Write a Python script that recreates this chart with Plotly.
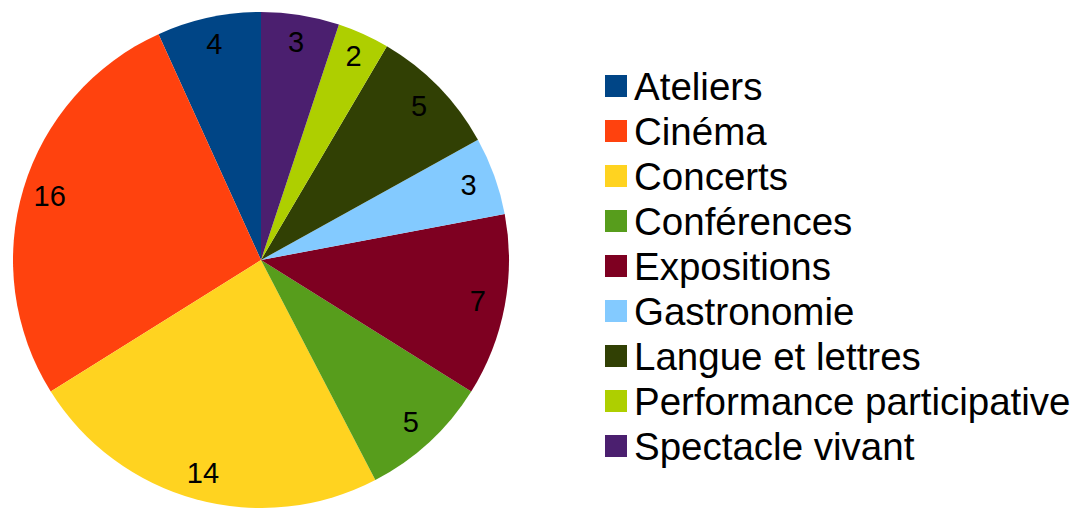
import plotly.graph_objects as go

categories = ["Ateliers", "Cinéma", "Concerts", "Conférences", "Expositions",
              "Gastronomie", "Langue et lettres", "Performance participative",
              "Spectacle vivant"]
values = [4, 16, 14, 5, 7, 3, 5, 2, 3]
colors = ["#004586", "#ff420e", "#ffd320", "#579d1c", "#7e0021",
          "#83caff", "#314004", "#aecf00", "#4b1f6f"]

total = sum(values)
# counterclockwise in plotly ends the first slice at the rotation angle;
# shift so the first slice starts at 12 o'clock
rot = -360.0 * values[0] / total

pie_domain = dict(x=[11/1074, 511/1074], y=[0, 1 - 12/508])

fig = go.Figure()
fig.add_trace(go.Pie(
    labels=categories,
    values=values,
    sort=False,
    direction="counterclockwise",
    rotation=rot,
    marker=dict(colors=colors, line=dict(width=0)),
    textinfo="none",
    domain=pie_domain,
    hoverinfo="label+value",
    showlegend=False,
))
# transparent ring overlay used only to place the value labels near the rim
fig.add_trace(go.Pie(
    labels=categories,
    values=values,
    sort=False,
    direction="counterclockwise",
    rotation=rot,
    hole=0.78,
    marker=dict(colors=["rgba(0,0,0,0)"] * len(values), line=dict(width=0)),
    textinfo="value",
    textposition="inside",
    insidetextorientation="horizontal",
    textfont=dict(family="Liberation Sans", size=29, color="black"),
    domain=pie_domain,
    hoverinfo="skip",
    showlegend=False,
))

# legend drawn as categorical scatters: swatches and labels
fig.add_trace(go.Scatter(
    x=[0] * len(categories),
    y=categories,
    mode="markers",
    marker=dict(symbol="square", size=22, color=colors, line=dict(width=0)),
    cliponaxis=False,
    hoverinfo="skip",
    showlegend=False,
    xaxis="x", yaxis="y",
))
fig.add_trace(go.Scatter(
    x=[0] * len(categories),
    y=categories,
    mode="text",
    text=categories,
    textposition="middle right",
    textfont=dict(family="Liberation Sans", size=38.5, color="black"),
    cliponaxis=False,
    hoverinfo="skip",
    showlegend=False,
    xaxis="x2", yaxis="y2",
))

ycat = dict(range=[len(categories) - 0.5, -0.5],
            type="category", categoryorder="array", categoryarray=categories,
            visible=False, fixedrange=True)

fig.update_layout(
    width=1074, height=508,
    margin=dict(l=0, r=0, t=0, b=0),
    paper_bgcolor="white",
    plot_bgcolor="rgba(0,0,0,0)",
    font=dict(family="Liberation Sans", color="black"),
    showlegend=False,
    xaxis=dict(domain=[616/1074, 1], range=[0, 1], visible=False, fixedrange=True),
    yaxis=dict(domain=[1 - 468.5/508, 1 - 63.5/508], **ycat),
    xaxis2=dict(domain=[634/1074, 1], range=[0, 1], visible=False, fixedrange=True),
    yaxis2=dict(domain=[1 - 472.5/508, 1 - 67.5/508], **ycat),
)

fig.write_html(
    "out.html",
    config={"displayModeBar": False},
    post_script="document.body.style.margin='0';document.body.style.overflow='hidden';",
)
